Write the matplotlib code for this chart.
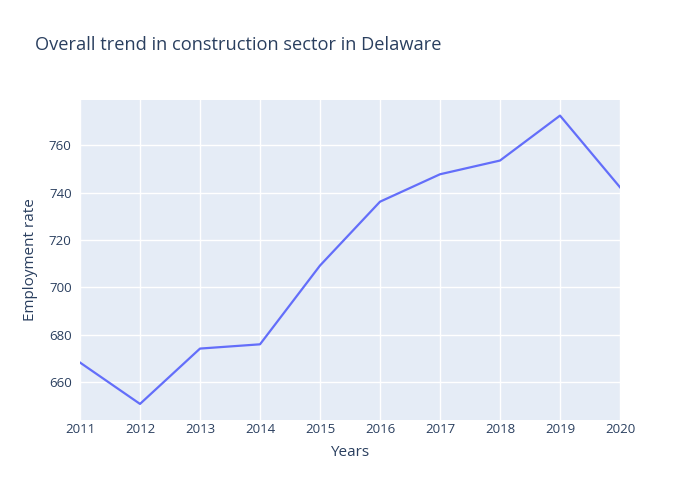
import matplotlib
matplotlib.use("Agg")
import matplotlib.pyplot as plt

years = [2011, 2012, 2013, 2014, 2015, 2016, 2017, 2018, 2019, 2020]
employment = [668.2, 650.7, 674.1, 675.9, 709.2, 736.2, 747.8, 753.6, 772.6, 742.3]
y_ticks = [660, 680, 700, 720, 740, 760]

plt.rcParams['font.family'] = ['Open Sans', 'DejaVu Sans']
txt = '#2a3f5f'

fig = plt.figure(figsize=(7, 5), dpi=100)
ax = fig.add_axes([80/700, 80/500, 540/700, 320/500])
ax.set_facecolor('#e5ecf6')
ax.plot(years, employment, color='#636efa', lw=1.6, zorder=3)
ax.set_xlim(2011, 2020)
ax.set_ylim(643.9, 779.2)
ax.set_xticks(years)
ax.set_yticks(y_ticks)
ax.grid(True, color='white', lw=1)
ax.set_axisbelow(True)
for s in ax.spines.values():
    s.set_visible(False)
ax.tick_params(length=0, labelsize=9.5, colors=txt)
ax.tick_params(axis='x', pad=2)
ax.tick_params(axis='y', pad=6)
ax.set_xlabel('Years', fontsize=11, color=txt, labelpad=7)
ax.set_ylabel('Employment rate', fontsize=11, color=txt, labelpad=8)
fig.text(35/700, 1 - 45/500, 'Overall trend in construction sector in Delaware',
         fontsize=13.15, color=txt, va='center', ha='left')
fig.savefig('out.png', dpi=100)
